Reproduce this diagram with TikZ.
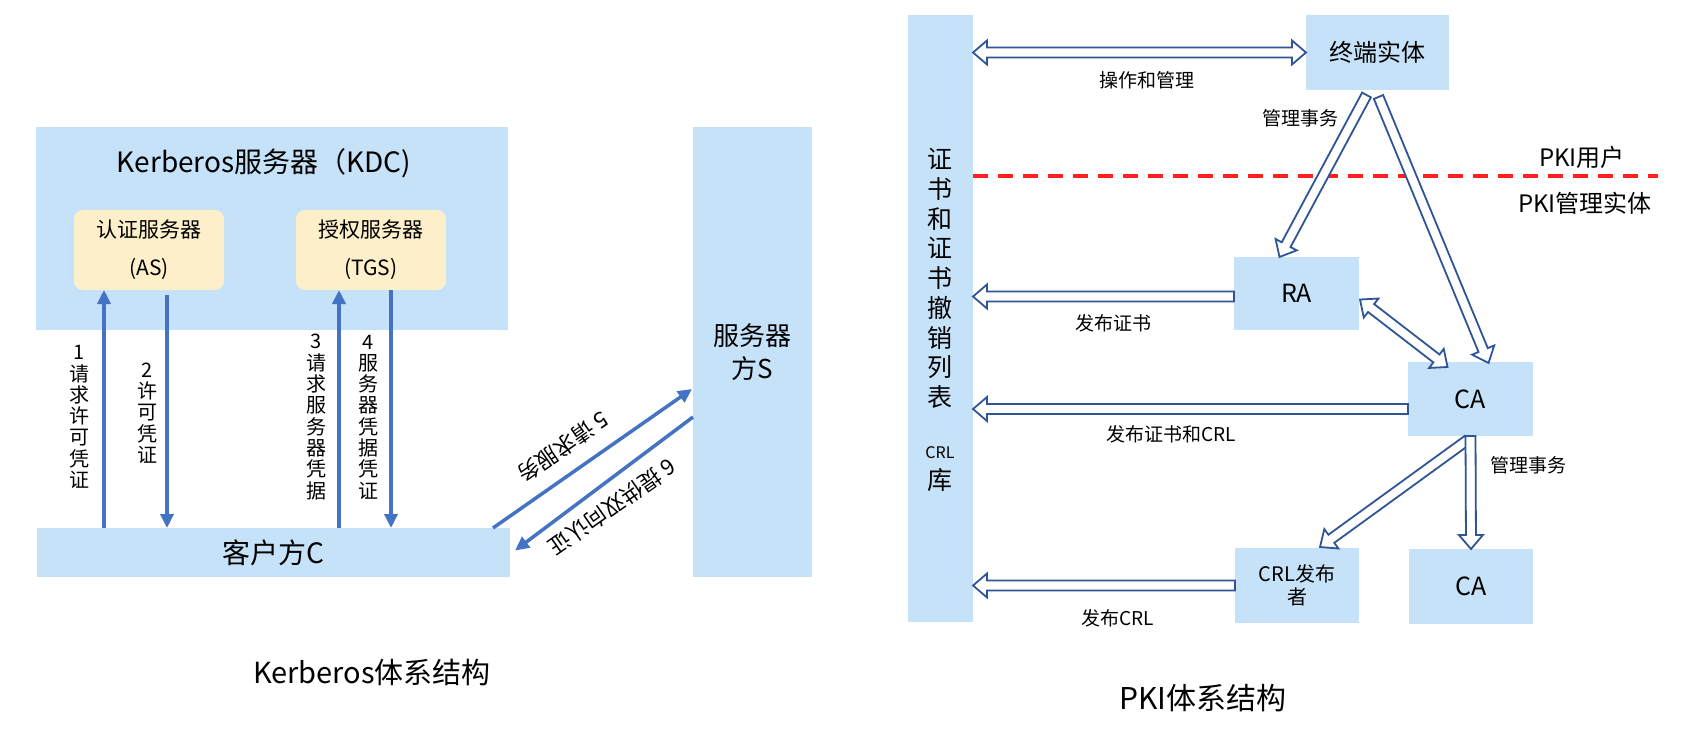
\documentclass[tikz,border=0pt]{standalone}
\usepackage{fontspec}
\setmainfont{Noto Sans CJK SC}
\usetikzlibrary{arrows.meta,calc}
\definecolor{boxblue}{HTML}{C6E2F8}
\definecolor{boxyellow}{HTML}{FDEFC9}
\definecolor{kblue}{HTML}{4472C4}
\definecolor{pblue}{HTML}{2F5597}
\definecolor{dashred}{HTML}{FF1F1F}
\newcommand{\fs}[1]{\fontsize{#1}{#1}\selectfont}
\newcommand{\hollowone}[2]{%
  \coordinate (hA) at (#1);
  \coordinate (hB) at (#2);
  \coordinate (hP) at ($(hB)!14pt!(hA)$);
  \draw[hollow] ($(hA)!5pt!90:(hB)$) -- ($(hP)!5pt!90:(hB)$) -- ($(hP)!12pt!90:(hB)$) -- (hB)
    -- ($(hP)!12pt!-90:(hB)$) -- ($(hP)!5pt!-90:(hB)$) -- ($(hA)!5pt!-90:(hB)$) -- cycle;
}
\newcommand{\hollowtwo}[2]{%
  \coordinate (hA) at (#1);
  \coordinate (hB) at (#2);
  \coordinate (hP) at ($(hB)!14pt!(hA)$);
  \coordinate (hQ) at ($(hA)!14pt!(hB)$);
  \draw[hollow] ($(hQ)!5pt!90:(hB)$) -- ($(hP)!5pt!90:(hB)$) -- ($(hP)!12pt!90:(hB)$) -- (hB)
    -- ($(hP)!12pt!-90:(hB)$) -- ($(hP)!5pt!-90:(hB)$) -- ($(hQ)!5pt!-90:(hB)$)
    -- ($(hQ)!12pt!-90:(hB)$) -- (hA) -- ($(hQ)!12pt!90:(hB)$) -- cycle;
}
\begin{document}
\begin{tikzpicture}[x=1pt,y=-1pt,
  every node/.style={inner sep=0pt,outer sep=0pt,text=black},
  bbox/.style={fill=boxblue,align=center},
  ybox/.style={fill=boxyellow,rounded corners=9pt,align=center,font=\fontsize{21}{38}\selectfont},
  vlab/.style={align=center,font=\fontsize{20}{21.3}\selectfont},
  rlab/.style={font=\fs{22},rotate=215},
  karrow/.style={draw=kblue,line width=3.5pt,-{Triangle[width=13pt,length=14pt]}},
  hollow/.style={draw=pblue,fill=white,line width=1.8pt,line join=miter},
  plab/.style={font=\fs{19}},
  reddash/.style={draw=dashred,line width=4pt,dash pattern=on 15pt off 10pt}
]
\fill[white] (0,0) rectangle (1683,735);
\useasboundingbox (0,0) rectangle (1683,735);

% ---------------- Kerberos ----------------
\node[bbox,minimum width=472,minimum height=203] (kdc) at (272,228.5) {};
\node[font=\fs{28}] (kdct) at (264,163) {Kerberos服务器（KDC)};
\node[ybox,minimum width=150,minimum height=80] (as) at (149,250) {认证服务器\\(AS)};
\node[ybox,minimum width=150,minimum height=80] (tgs) at (371,250) {授权服务器\\(TGS)};
\node[bbox,minimum width=473,minimum height=49,font=\fs{28}] (cli) at (273.5,552.5) {客户方C};
\node[bbox,minimum width=119,minimum height=450,font=\fontsize{26}{33}\selectfont] (srv) at (752.5,352) {服务器\\方S};

\draw[karrow] ($(cli.north west)+(67,0)$) -- ($(as.south west)+(30,0)$);
\draw[karrow] ($(as.south west)+(93,5)$) -- ($(cli.north west)+(130,0)$);
\draw[karrow] ($(cli.north west)+(302,0)$) -- ($(tgs.south west)+(43,0)$);
\draw[karrow] ($(tgs.south west)+(95,0)$) -- ($(cli.north west)+(354,0)$);
\draw[karrow] ($(cli.north east)+(-17,0)$) -- ($(srv.north west)+(-1,262)$);
\draw[karrow] ($(srv.north west)+(0,290)$) -- ($(cli.east)+(5,-2)$);

\node[vlab] (l1) at (79,417) {1\\请\\求\\许\\可\\凭\\证};
\node[vlab] (l2) at (147,413) {2\\许\\可\\凭\\证};
\node[vlab] (l3) at (316,417) {3\\请\\求\\服\\务\\器\\凭\\据};
\node[vlab] (l4) at (368,417) {4\\服\\务\\器\\凭\\据\\凭\\证};
\node[rlab] (l5) at (563,447) {5 请求服务};
\node[rlab] (l6) at (612,507) {6 提供双向认证};

\node[font=\fs{29}] (capk) at (372,672) {Kerberos体系结构};

% ---------------- PKI ----------------
\node[bbox,minimum width=65,minimum height=607] (bar) at (940.5,318.5) {};
\node[align=center,font=\fontsize{25}{29.7}\selectfont] (bart) at (940,278.5) {证\\书\\和\\证\\书\\撤\\销\\列\\表};
\node[font=\fs{16}] (crlt) at (940,453) {CRL};
\node[font=\fs{25}] (kut) at (940,480) {库};

\node[bbox,minimum width=143,minimum height=75,font=\fs{24}] (ee) at (1377.5,52.5) {终端实体};
\node[bbox,minimum width=125,minimum height=73,font=\fs{25}] (ra) at (1296.5,293.5) {RA};
\node[bbox,minimum width=125,minimum height=74,font=\fs{25}] (ca) at (1470.5,399) {CA};
\node[bbox,minimum width=124,minimum height=75,font=\fontsize{20}{23}\selectfont] (crlp) at (1297,585.5) {CRL发布\\者};
\node[bbox,minimum width=124,minimum height=75,font=\fs{25}] (ca2) at (1471,586.5) {CA};

\coordinate (dend) at (1658,176);
\draw[reddash] (bar.east |- dend) -- (dend);
\node[font=\fs{24}] (pu) at (1582,157) {PKI用户};
\node[font=\fs{24}] (pm) at (1585,203) {PKI管理实体};

\hollowtwo{bar.east |- ee.west}{ee.west}
\hollowone{$(ee.south)+(-11,5)$}{$(ra.north)+(-17,0)$}
\hollowone{$(ee.south)+(1,7)$}{$(ca.north)+(18,1)$}
\hollowtwo{$(ra.east)+(1,6)$}{$(ca.north)+(-23,5)$}
\coordinate (raout) at ($(ra.west)+(0,3)$);
\hollowone{raout}{bar.east |- raout}
\coordinate (caout) at ($(ca.west)+(0,10)$);
\hollowone{caout}{bar.east |- caout}
\hollowone{crlp.west}{bar.east |- crlp.west}
\hollowone{$(ca.south)+(-3,4)$}{$(crlp.north)+(23,-1)$}
\hollowone{ca.south}{ca2.north}

\node[plab] (t1) at (1147,80) {操作和管理};
\node[plab] (t2) at (1300,118) {管理事务};
\node[plab] (t3) at (1113,323) {发布证书};
\node[plab] (t4) at (1171,434) {发布证书和CRL};
\node[plab] (t5) at (1118,618) {发布CRL};
\node[plab] (t6) at (1528,465) {管理事务};

\node[font=\fs{30}] (capp) at (1203,698) {PKI体系结构};
\end{tikzpicture}
\end{document}
